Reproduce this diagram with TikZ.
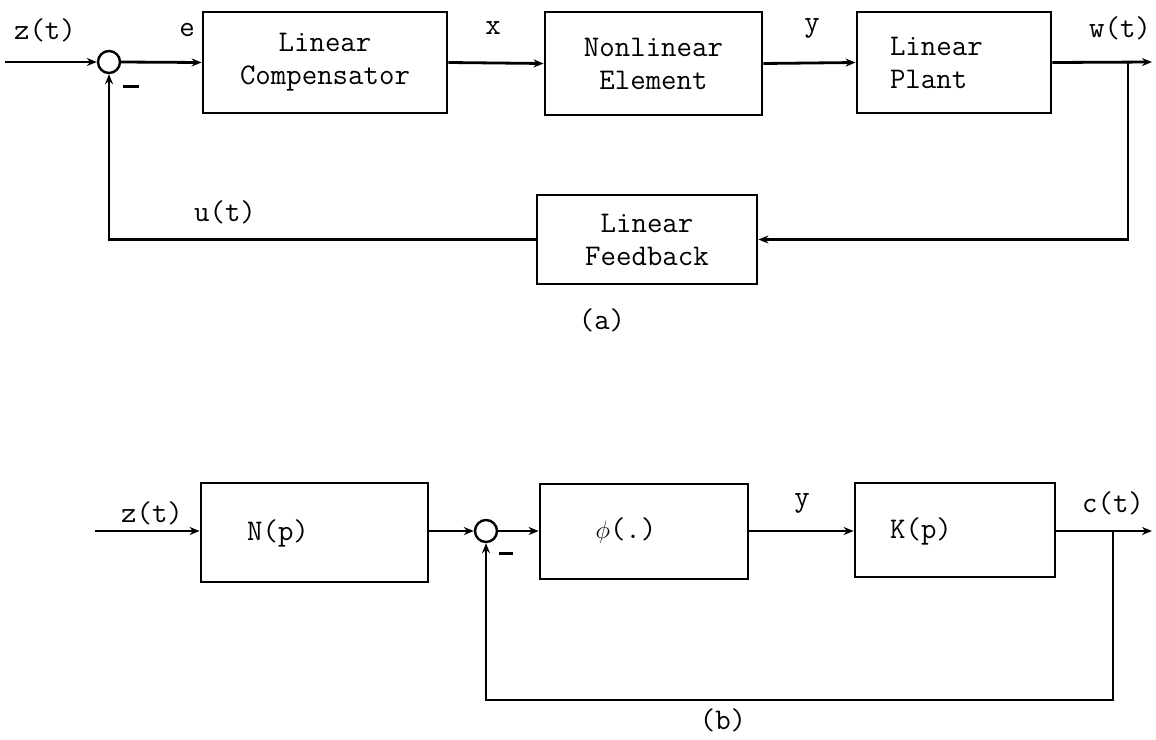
\documentclass[tikz,border=0pt]{standalone}
\usepackage{fontspec}
\usetikzlibrary{arrows.meta}
\newcommand\twfont{\ttfamily\addfontfeatures{FakeBold=1.3}\fontsize{30}{33}\selectfont}
\begin{document}
\begin{tikzpicture}[x=1pt,y=-1pt,
  every node/.style={font=\twfont},
  blk/.style={draw,line width=2.8pt,inner sep=0pt},
  sumc/.style={draw,circle,line width=2.4pt,minimum size=22pt,inner sep=0pt},
  arr/.style={line width=2.8pt,-{Stealth[length=10pt,width=8pt,open]}},
  lbl/.style={inner sep=0pt}]
\useasboundingbox (0,0) rectangle (1156,739);
% ---------- (a) ----------
\node[sumc] (sa) at (109,62) {};
\node[blk,minimum width=244pt,minimum height=101pt,align=center] (comp) at (325,62.5) {Linear\\Compensator};
\node[blk,minimum width=217pt,minimum height=103pt,align=center] (nl) at (653.5,63.5) {Nonlinear\\Element};
\node[blk,minimum width=194pt,minimum height=101pt,align=left,text width=128pt] (plant) at (954,62.5) {Linear\\Plant};
\node[blk,minimum width=220pt,minimum height=89pt,align=center] (fb) at (647,239.5) {Linear\\Feedback};
\coordinate (ina) at (5,62);
\coordinate (outa) at (1152,62);
\coordinate (ja) at (1128,62);
\draw[arr] (ina) -- (sa.west);
\draw[arr] (sa.east) -- (comp.west);
\draw[arr] (comp.east) -- (nl.west);
\draw[arr] (nl.east) -- (plant.west);
\draw[arr] (plant.east) -- (outa);
\draw[arr] (ja) |- (fb.east);
\draw[arr] (fb.west) -| (sa.south);
\node[lbl] (lz) at (45,30) {z(t)};
\node[lbl] (le) at (187,30) {e};
\node[lbl] (lx) at (493,28) {x};
\node[lbl] (ly) at (812,28) {y};
\node[lbl] (lw) at (1120,28) {w(t)};
\node[lbl] (lu) at (225,212) {u(t)};
\node[lbl] (lm1) at (131,86) {\rule{16pt}{3pt}};
\node[lbl] (la) at (602,320) {(a)};
% ---------- (b) ----------
\node[sumc] (sb) at (486,531) {};
\node[blk,minimum width=227pt,minimum height=99pt] (np) at (314.5,532.5) {};
\node[lbl] (npt) at (278,533) {N(p)};
\node[blk,minimum width=208pt,minimum height=95pt] (phi) at (644,531.5) {};
\node[lbl] (phit) at (626,531) {$\phi$(.)};
\node[blk,minimum width=200pt,minimum height=94pt] (kp) at (955,530) {};
\node[lbl] (kpt) at (921,531) {K(p)};
\coordinate (inb) at (95,531);
\coordinate (outb) at (1152,531);
\coordinate (jb) at (1113,531);
\coordinate (bb) at (1113,700);
\draw[arr] (inb) -- (np.west |- inb);
\draw[arr] (np.east |- sb) -- (sb.west);
\draw[arr] (sb.east) -- (phi.west |- sb);
\draw[arr] (phi.east |- sb) -- (kp.west |- sb);
\draw[arr] (kp.east |- sb) -- (outb);
\draw[arr] (jb) -- (bb) -| (sb.south);
\node[lbl] (lzb) at (152,513) {z(t)};
\node[lbl] (lyb) at (802,503) {y};
\node[lbl] (lcb) at (1113,503) {c(t)};
\node[lbl] (lm2) at (506,553) {\rule{14pt}{3pt}};
\node[lbl] (lb) at (723,720) {(b)};
\end{tikzpicture}
\end{document}
